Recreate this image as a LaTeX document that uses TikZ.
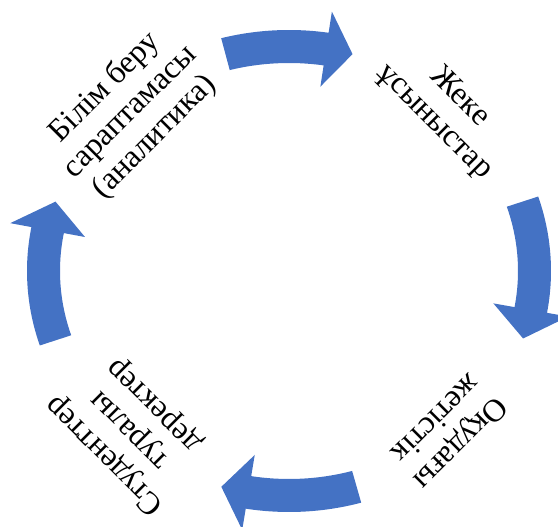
\documentclass[tikz,border=0pt]{standalone}
\usepackage{fontspec}
\setmainfont{Liberation Serif}
\definecolor{cycblue}{HTML}{4472C4}
\begin{document}
\begin{tikzpicture}[x=1pt, y=1pt,
          every node/.style = {align=center, inner sep=0pt, font=\fontsize{32}{35}\selectfont},
          cyc/.style={fill=cycblue}]
          \useasboundingbox (0,0) rectangle (558,527);
          \coordinate (C) at (289,256);
          \fill[cyc] ([shift={(105:262 and 241)}]C) arc[start angle=105, end angle=81.3, x radius=262, y radius=241]
            -- ([shift={(81.3:283.5 and 262.5)}]C) -- ([shift={(75:245.5 and 224.5)}]C)
            -- ([shift={(81.3:207.5 and 186.5)}]C) -- ([shift={(81.3:229 and 208)}]C)
            arc[start angle=81.3, end angle=105, x radius=229, y radius=208] -- cycle;
          \fill[cyc] ([shift={(18:262 and 241)}]C) arc[start angle=18, end angle=-10, x radius=262, y radius=241]
            -- ([shift={(-10:283.5 and 262.5)}]C) -- ([shift={(-17.5:245.5 and 224.5)}]C)
            -- ([shift={(-10:207.5 and 186.5)}]C) -- ([shift={(-10:229 and 208)}]C)
            arc[start angle=-10, end angle=18, x radius=229, y radius=208] -- cycle;
          \fill[cyc] ([shift={(-74:262 and 241)}]C) arc[start angle=-74, end angle=-99.5, x radius=262, y radius=241]
            -- ([shift={(-99.5:283.5 and 262.5)}]C) -- ([shift={(-106:245.5 and 224.5)}]C)
            -- ([shift={(-99.5:207.5 and 186.5)}]C) -- ([shift={(-99.5:229 and 208)}]C)
            arc[start angle=-99.5, end angle=-74, x radius=229, y radius=208] -- cycle;
          \fill[cyc] ([shift={(198:262 and 241)}]C) arc[start angle=198, end angle=169.5, x radius=262, y radius=241]
            -- ([shift={(169.5:283.5 and 262.5)}]C) -- ([shift={(162:245.5 and 224.5)}]C)
            -- ([shift={(169.5:207.5 and 186.5)}]C) -- ([shift={(169.5:229 and 208)}]C)
            arc[start angle=169.5, end angle=198, x radius=229, y radius=208] -- cycle;
          \node[rotate=45] (analytics) at (130,415) {Білім беру\\сараптамасы\\(аналитика)};
          \node[rotate=-45] (advice) at (447,417) {Жеке\\ұсыныстар};
          \node[rotate=225] (success) at (449,95) {Оқудағы\\жетістік};
          \node[rotate=135] (data) at (130,97) {Студенттер\\туралы\\деректер};
        \end{tikzpicture}
\end{document}
